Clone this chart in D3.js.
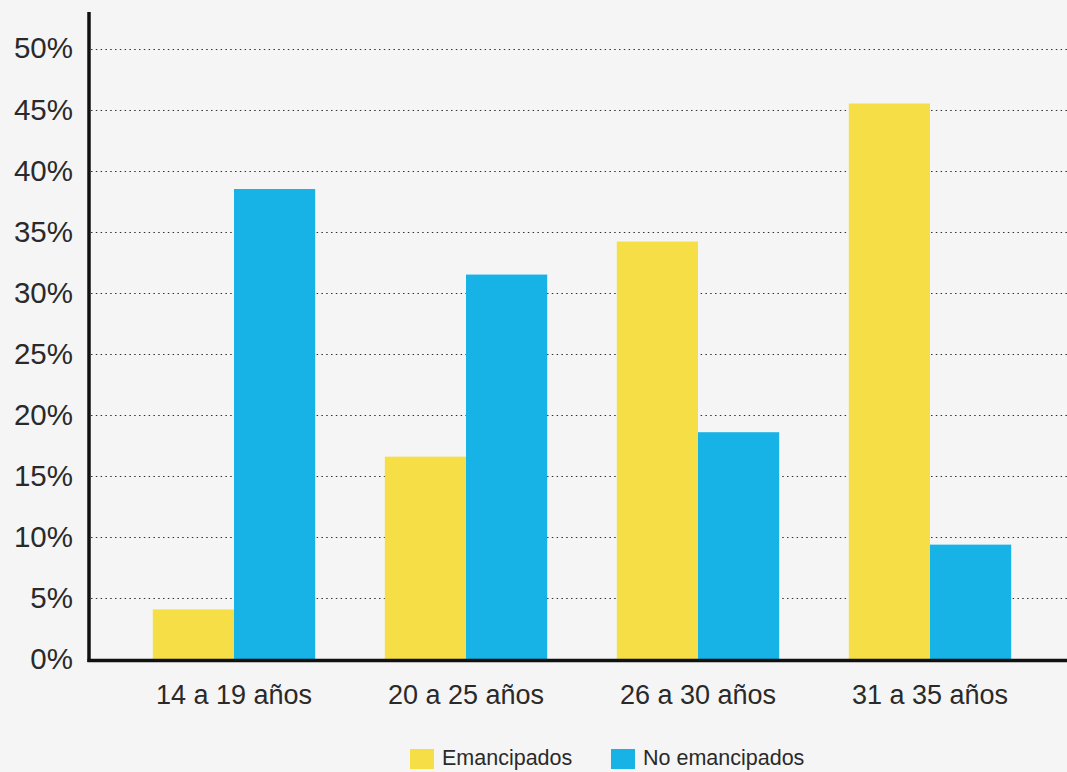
<!DOCTYPE html>
<html>
<head>
<meta charset="utf-8">
<script src="https://cdn.jsdelivr.net/npm/d3@7"></script>
<style>
html,body{margin:0;padding:0;background:#f5f5f5;}
svg{display:block;}
text{font-family:"Helvetica Neue","Liberation Sans",Arial,sans-serif;fill:#2a2a2a;}
</style>
</head>
<body>
<svg id="chart" width="1067" height="772"></svg>
<script>
const categories = ["14 a 19 años","20 a 25 años","26 a 30 años","31 a 35 años"];
const seriesNames = ["Emancipados","No emancipados"];
const emancipados = [4.1, 16.6, 34.2, 45.5];
const noEmancipados = [38.5, 31.5, 18.6, 9.4];
const yTicks = [0,5,10,15,20,25,30,35,40,45,50];
const colors = ["#f6de47","#17b3e7"];

const svg = d3.select("#chart");
const W = 1067, H = 772;
svg.append("rect").attr("width",W).attr("height",H).attr("fill","#f5f5f5");

const y = d3.scaleLinear().domain([0,50]).range([659.5,48.5]);
const x0 = d3.scaleBand().domain(categories).range([118,1046]).paddingInner(0.3).paddingOuter(0.15);
const x1 = d3.scaleBand().domain(seriesNames).range([0,x0.bandwidth()]);

// grid
svg.append("g").selectAll("line").data(yTicks.filter(d=>d>0)).join("line")
  .attr("x1",91).attr("x2",W)
  .attr("y1",d=>Math.round(y(d))+0.5).attr("y2",d=>Math.round(y(d))+0.5)
  .attr("stroke","#333").attr("stroke-width",1.2).attr("stroke-dasharray","1.5,3.3");

// bars
const data = categories.map((c,i)=>({cat:c, vals:[emancipados[i], noEmancipados[i]]}));
const g = svg.append("g");
data.forEach(d=>{
  d.vals.forEach((v,j)=>{
    g.append("rect")
      .attr("x", x0(d.cat)+x1(seriesNames[j]))
      .attr("width", x1.bandwidth())
      .attr("y", y(v))
      .attr("height", y(0)-y(v))
      .attr("fill", colors[j]);
  });
});

// y axis
const yAxis = d3.axisLeft(y).tickValues(yTicks).tickFormat(d=>d+"%").tickSize(0).tickPadding(16);
const ya = svg.append("g").attr("transform","translate(89,0)").call(yAxis);
ya.select(".domain").remove();
ya.selectAll("text").attr("font-size",29.5).attr("font-weight",300).attr("fill","#2a2a2a")
  .style("font-family",'"Helvetica Neue","Liberation Sans",Arial,sans-serif');
svg.append("line").attr("x1",89).attr("x2",89).attr("y1",12).attr("y2",662)
  .attr("stroke","#111").attr("stroke-width",3.5);
svg.append("line").attr("x1",87.5).attr("x2",1067).attr("y1",660.5).attr("y2",660.5)
  .attr("stroke","#111").attr("stroke-width",3.5);

// x axis labels
const xAxis = d3.axisBottom(x0).tickSize(0).tickPadding(0);
const xa = svg.append("g").attr("transform","translate(0,704)").call(xAxis);
xa.select(".domain").remove();
xa.selectAll("text").attr("dy",0).attr("y",0).attr("font-size",27).attr("fill","#2a2a2a")
  .style("font-family",'"Helvetica Neue","Liberation Sans",Arial,sans-serif');

// legend
const legendX = [410, 611];
seriesNames.forEach((s,j)=>{
  svg.append("rect").attr("x",legendX[j]).attr("y",749).attr("width",24).attr("height",20).attr("fill",colors[j]);
  svg.append("text").attr("x",legendX[j]+32).attr("y",765).attr("font-size",21.5).text(s);
});
</script>
</body>
</html>
